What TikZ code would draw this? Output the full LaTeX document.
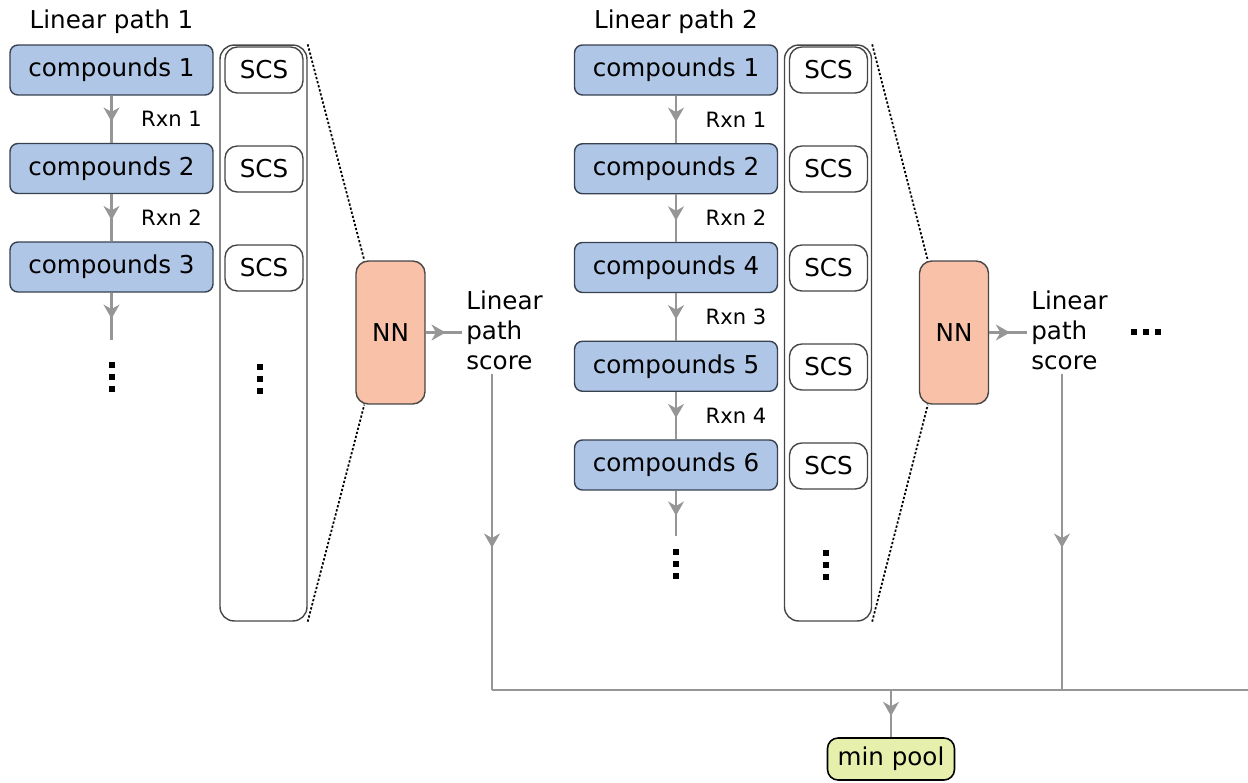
\documentclass[tikz,border=0pt]{standalone}
\usepackage{fontspec}
\setmainfont{DejaVu Sans}
\usetikzlibrary{arrows.meta,decorations.markings,calc}
\definecolor{cmpdblue}{RGB}{176,198,230}
\definecolor{cmpdedge}{RGB}{55,65,80}
\definecolor{nnsalmon}{RGB}{248,193,168}
\definecolor{poolgreen}{RGB}{230,240,172}
\definecolor{flowgray}{RGB}{150,150,150}
\definecolor{boxedge}{RGB}{70,70,70}
\tikzset{
  every node/.style={font=\fontsize{14pt}{17pt}\selectfont},
  cmpd/.style={draw=cmpdedge, fill=cmpdblue, rounded corners=4.5pt, line width=0.8pt,
    minimum width=4.06cm, minimum height=1cm, inner sep=0pt},
  scs/.style={draw=boxedge, fill=white, rounded corners=7pt, line width=0.8pt,
    minimum width=1.56cm, minimum height=0.92cm, inner sep=0pt},
  scsframe/.style={draw=boxedge, rounded corners=8pt, line width=0.8pt,
    minimum width=1.74cm, minimum height=11.52cm, inner sep=0pt},
  nnbox/.style={draw=boxedge, fill=nnsalmon, rounded corners=7pt, line width=0.8pt,
    minimum width=1.38cm, minimum height=2.86cm, inner sep=0pt},
  pool/.style={draw=black, fill=poolgreen, rounded corners=6pt, line width=0.9pt,
    minimum width=2.54cm, minimum height=0.84cm, inner sep=0pt},
  score/.style={align=left, anchor=west, inner sep=0.08cm},
  rxn/.style={font=\fontsize{12pt}{14pt}\selectfont},
  flow/.style={draw=flowgray, line width=1.5pt, postaction={decorate},
    decoration={markings, mark=at position 0.55 with
      {\arrow[flowgray]{Stealth[length=8pt,width=9pt,inset=2.5pt]}}}},
  bus/.style={draw=flowgray, line width=1.5pt},
  zoomline/.style={dash pattern=on 1.3pt off 1.1pt, line width=1pt},
}
\begin{document}
\begin{tikzpicture}[x=0.02cm,y=-0.02cm]
  \useasboundingbox (0,0) rectangle (1248,782);
  % linear path 1
  \node (title1) at (111.5,22) {Linear path 1};
  \node[scsframe] (frame1) at (263.5,333) {};
  \foreach \lab [count=\i] in {1,2,3}{
    \node[cmpd] (a\i) at (111.5,{70+98.5*(\i-1)}) {compounds \lab};
    \node[scs] (sa\i) at (264,{70+99*(\i-1)}) {SCS};
  }
  \foreach \i/\j in {1/2,2/3}
    \draw[flow] (a\i) -- (a\j) node[midway, rxn, right=0.45cm] {Rxn \i};
  \coordinate (a4) at (111.5,340);
  \draw[flow] (a3) -- (a4);
  \node[nnbox] (nn1) at (390.5,332.5) {NN};
  \node[score] (score1) at (462,330) {Linear\\path\\score};
  \draw[flow] (nn1.east) -- (nn1.east -| score1.west);
  \draw[zoomline] (frame1.north east) -- ($(nn1.north west)+(9,0)$);
  \draw[zoomline] (frame1.south east) -- ($(nn1.south west)+(9,0)$);

  % linear path 2
  \node (title2) at (676,22) {Linear path 2};
  \node[scsframe] (frame2) at (828,333) {};
  \foreach \lab [count=\i] in {1,2,4,5,6}{
    \node[cmpd] (b\i) at (676,{70+98.75*(\i-1)}) {compounds \lab};
    \node[scs] (sb\i) at (828.5,{70+99*(\i-1)}) {SCS};
  }
  \foreach \i/\j in {1/2,2/3,3/4,4/5}
    \draw[flow] (b\i) -- (b\j) node[midway, rxn, right=0.45cm] {Rxn \i};
  \coordinate (b6) at (676,536);
  \draw[flow] (b5) -- (b6);
  \node[nnbox] (nn2) at (954,332.5) {NN};
  \node[score] (score2) at (1027,330) {Linear\\path\\score};
  \draw[flow] (nn2.east) -- (nn2.east -| score2.west);
  \draw[zoomline] (frame2.north east) -- ($(nn2.north west)+(9,0)$);
  \draw[zoomline] (frame2.south east) -- ($(nn2.south west)+(9,0)$);

  % dots
  \foreach \x/\y in {111.5/365, 260/367, 676/552, 826/553}
    \foreach \k in {0,1,2}
      \fill (\x-3,\y+12*\k-3) rectangle ++(6,6);
  \foreach \k in {0,1,2}
    \fill (1131+12*\k,329) rectangle ++(6,6);

  % pooling
  \coordinate (j1) at (492,690);
  \coordinate (j2) at (1062,690);
  \coordinate (jm) at (891,690);
  \coordinate (jend) at (1248,690);
  \draw[flow] (score1.south -| j1) -- (j1);
  \draw[flow] (score2.south -| j2) -- (j2);
  \draw[bus] (j1) -- (jend);
  \node[pool] (pool) at (891,759) {min pool};
  \draw[flow] (jm) -- (pool);
\end{tikzpicture}
\end{document}
